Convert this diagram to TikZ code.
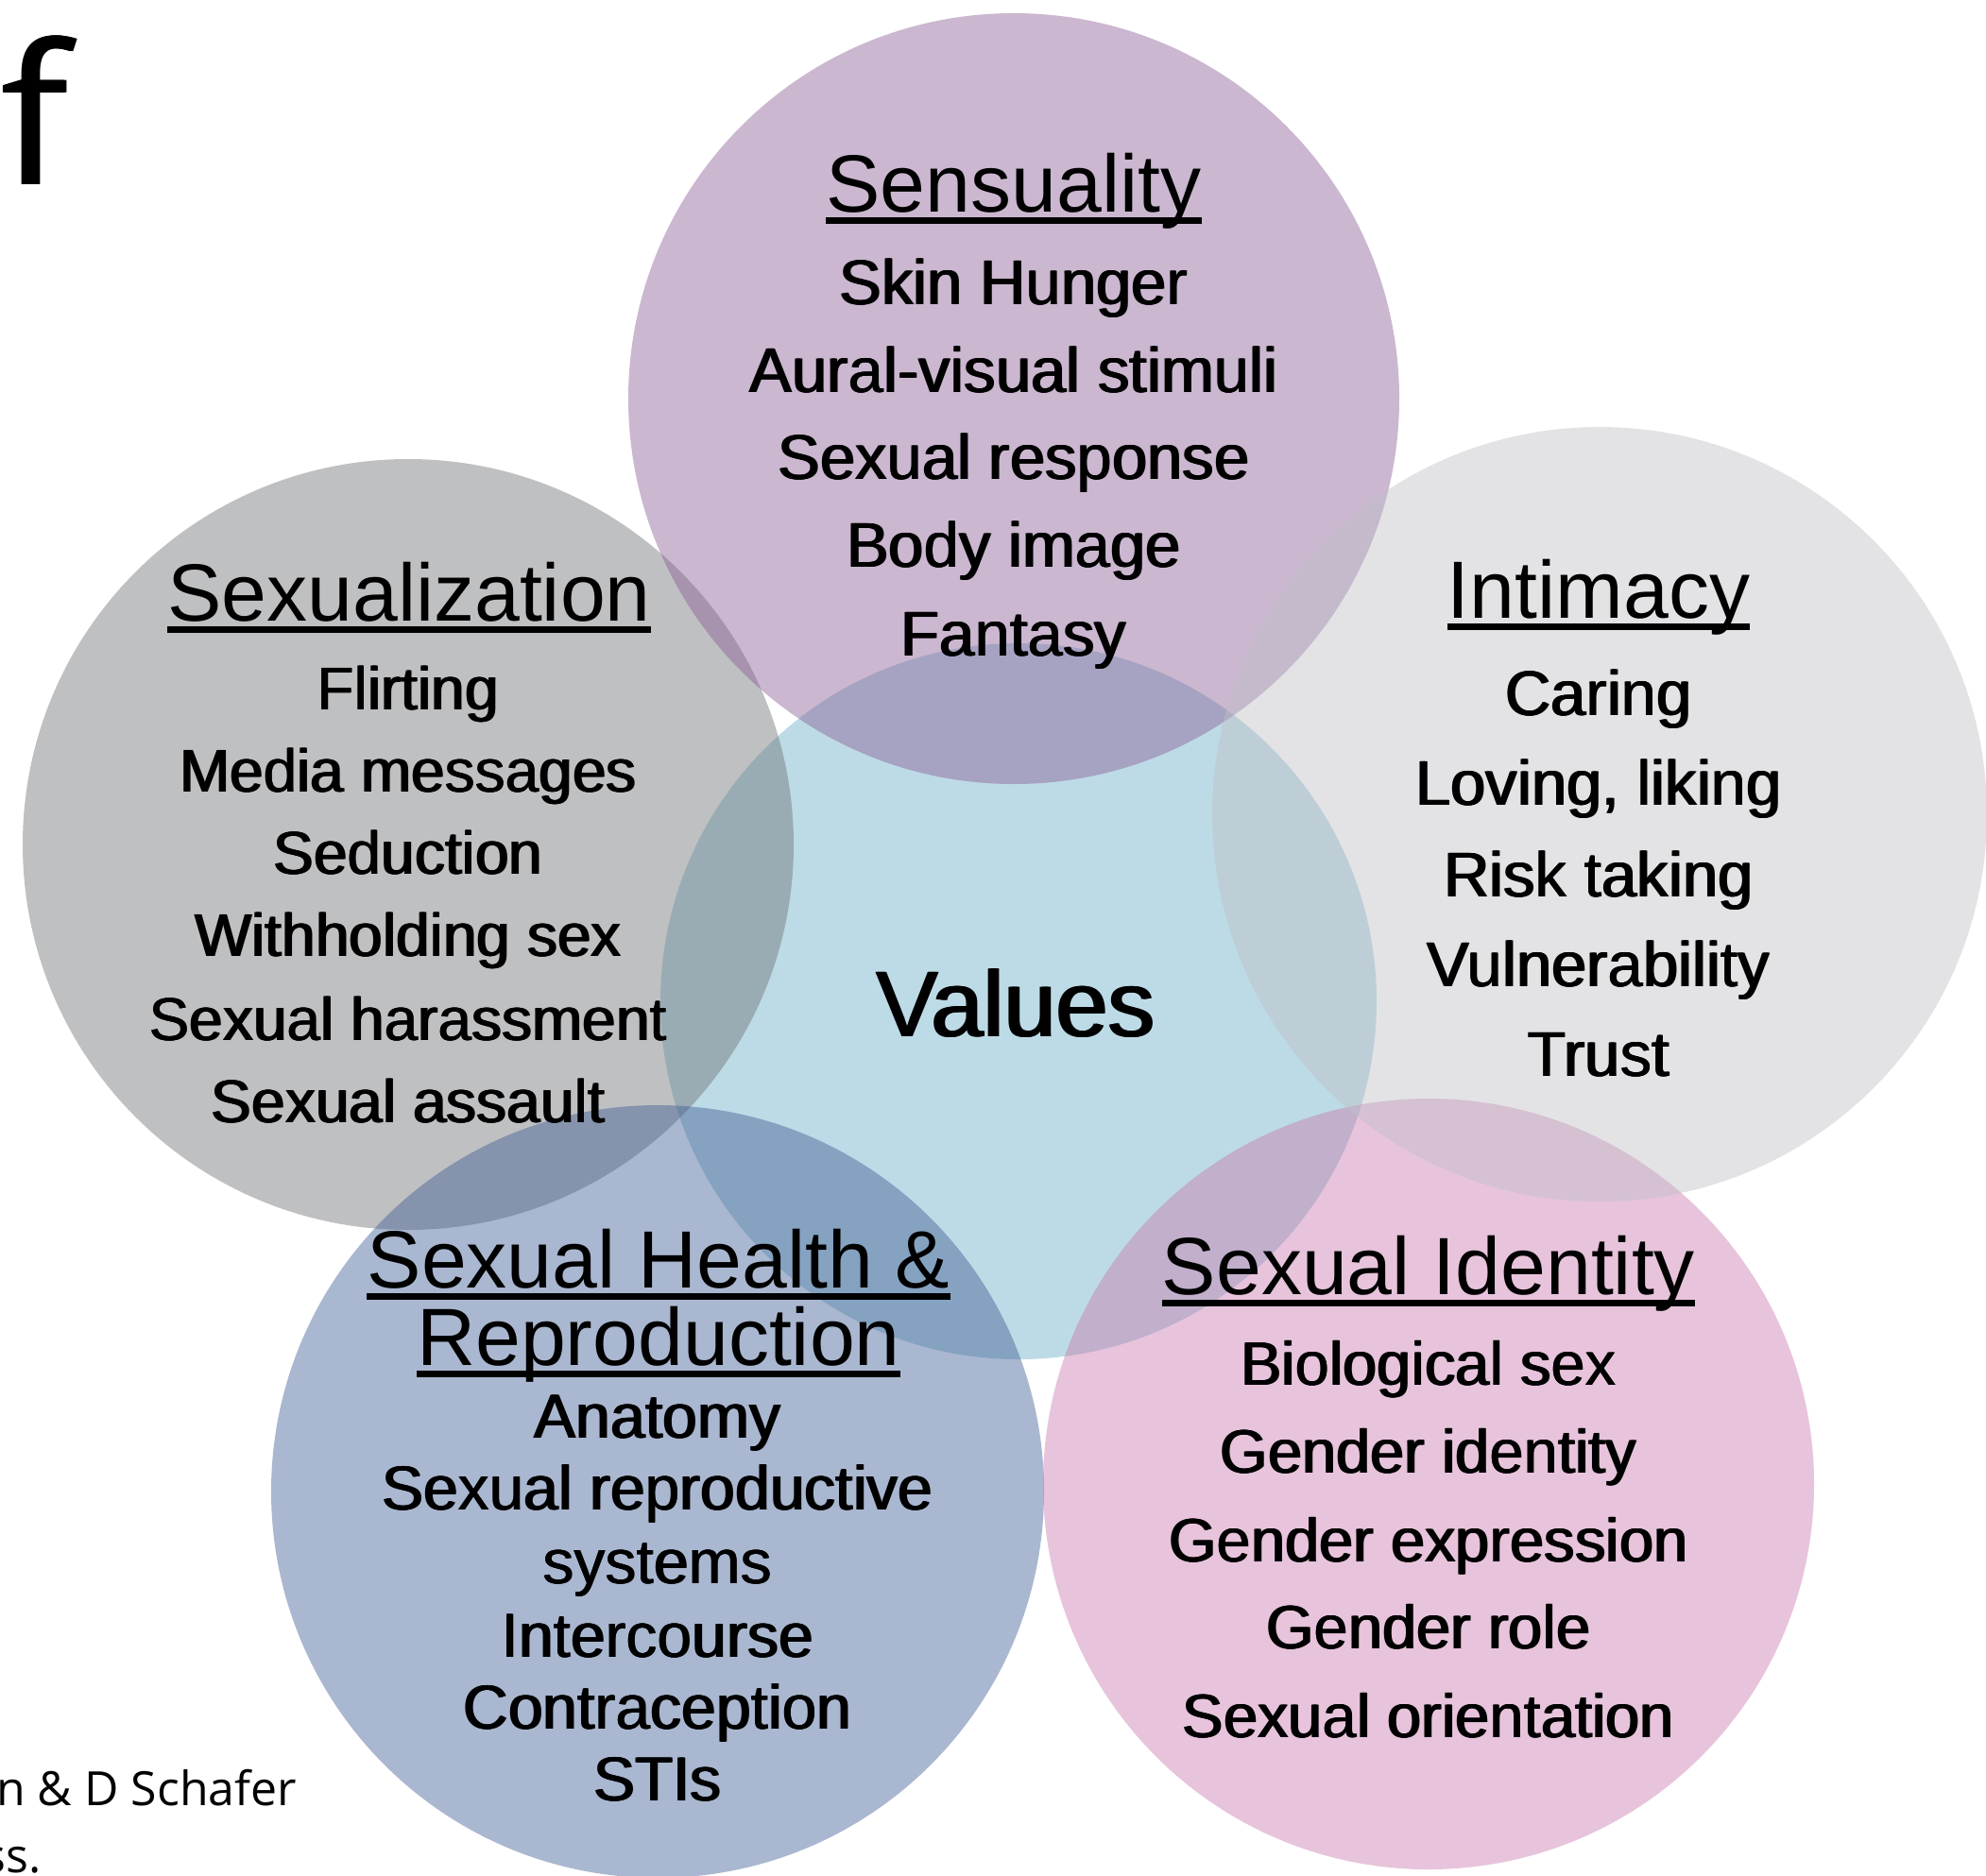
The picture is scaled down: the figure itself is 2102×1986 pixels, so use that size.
\documentclass[tikz,border=0pt]{standalone}
\usepackage{fontspec}
\setmainfont{Liberation Sans}
\newfontfamily\notefont{Open Sans}

% heavier strokes: the text is set three times, a little apart
\newcommand{\heavytext}[2]{\rlap{#2}\kern#1\rlap{#2}\kern#1#2}

\definecolor{valuesfill}{RGB}{189,219,230}
\definecolor{sexzfill}{RGB}{110,112,116}
\definecolor{sensfill}{RGB}{137,91,148}
\definecolor{healthfill}{RGB}{62,91,148}
\definecolor{identfill}{RGB}{200,121,173}
\definecolor{intimfill}{RGB}{191,191,198}

\begin{document}
\begin{tikzpicture}[x=1pt,y=-1pt,
  disc/.style={circle, draw=none, inner sep=0pt, minimum size=#1},
  glass/.style={fill opacity=0.44},
  heading/.style={font=\fontsize{86}{90}\selectfont, anchor=base, inner sep=0pt},
  entry/.style={font=\fontsize{#1}{#1}\selectfont, anchor=base, inner sep=0pt},
  entry/.default=66,
  centretext/.style={font=\fontsize{99}{102}\selectfont, anchor=base, inner sep=0pt},
  uline/.style={line width=7pt},
  note/.style={font=\notefont\fontsize{50}{56}\selectfont, inner sep=0pt}
]
\useasboundingbox (0,0) rectangle (2102,1986);
\clip (0,0) rectangle (2102,1986);

% the six circles, lowest first
\node[disc=758pt, fill=valuesfill] (values) at (1078,1060) {};
\node[disc=816pt, fill=sexzfill, glass] (sexz) at (432,894) {};
\node[disc=816pt, fill=sensfill, glass] (sens) at (1073,422) {};
\node[disc=818pt, fill=healthfill, glass] (health) at (696,1579) {};
\node[disc=816pt, fill=identfill, glass] (ident) at (1512,1571) {};
\node[disc=820pt, fill=intimfill, glass] (intim) at (1693,862) {};

% centre
\node[centretext] (valT) at (1075,1097) {\heavytext{1.3pt}{Values}};

% Sensuality
\node[heading] (sensT) at (1073,224) {Sensuality};
\draw[uline] ([yshift=-9pt]sensT.base west) -- ([yshift=-9pt]sensT.base east);
\node[entry=67] (sens1) at (1073,322) {\heavytext{0.9pt}{Skin Hunger}};
\node[entry=67] (sens2) at (1073,415) {\heavytext{0.9pt}{Aural-visual stimuli}};
\node[entry=67] (sens3) at (1073,507) {\heavytext{0.9pt}{Sexual response}};
\node[entry=67] (sens4) at (1073,600) {\heavytext{0.9pt}{Body image}};
\node[entry=67] (sens5) at (1073,694) {\heavytext{0.9pt}{Fantasy}};

% Sexualization
\node[heading] (sexzT) at (433,657) {Sexualization};
\draw[uline] ([yshift=-9pt]sexzT.base west) -- ([yshift=-9pt]sexzT.base east);
\node[entry=64] (sexz1) at (432,751) {\heavytext{0.9pt}{Flirting}};
\node[entry=64] (sexz2) at (432,838) {\heavytext{0.9pt}{Media messages}};
\node[entry=64] (sexz3) at (432,925) {\heavytext{0.9pt}{Seduction}};
\node[entry=64] (sexz4) at (432,1012) {\heavytext{0.9pt}{Withholding sex}};
\node[entry=64] (sexz5) at (432,1101) {\heavytext{0.9pt}{Sexual harassment}};
\node[entry=64] (sexz6) at (432,1188) {\heavytext{0.9pt}{Sexual assault}};

% Intimacy
\node[heading] (intimT) at (1692,654) {Intimacy};
\draw[uline] ([yshift=-9pt]intimT.base west) -- ([yshift=-9pt]intimT.base east);
\node[entry=67] (intim1) at (1692,757) {\heavytext{0.9pt}{Caring}};
\node[entry=67] (intim2) at (1692,852) {\heavytext{0.9pt}{Loving, liking}};
\node[entry=67] (intim3) at (1692,949) {\heavytext{0.9pt}{Risk taking}};
\node[entry=67] (intim4) at (1692,1044) {\heavytext{0.9pt}{Vulnerability}};
\node[entry=67] (intim5) at (1692,1139) {\heavytext{0.9pt}{Trust}};

% Sexual Health & Reproduction
\node[heading] (healthT) at (697,1363) {Sexual Health \&};
\draw[uline] ([yshift=-9pt]healthT.base west) -- ([yshift=-9pt]healthT.base east);
\node[heading] (healthT2) at (697,1445) {Reproduction};
\draw[uline] ([yshift=-9pt]healthT2.base west) -- ([yshift=-9pt]healthT2.base east);
\node[entry] (health1) at (696,1522) {\heavytext{0.9pt}{Anatomy}};
\node[entry] (health2) at (696,1598) {\heavytext{0.9pt}{Sexual reproductive}};
\node[entry] (health3) at (696,1676) {\heavytext{0.9pt}{systems}};
\node[entry] (health4) at (696,1754) {\heavytext{0.9pt}{Intercourse}};
\node[entry] (health5) at (696,1830) {\heavytext{0.9pt}{Contraception}};
\node[entry] (health6) at (696,1906) {\heavytext{0.9pt}{STIs}};

% Sexual Identity
\node[heading] (identT) at (1512,1370) {Sexual Identity};
\draw[uline] ([yshift=-9pt]identT.base west) -- ([yshift=-9pt]identT.base east);
\node[entry=65] (ident1) at (1512,1466) {\heavytext{0.9pt}{Biological sex}};
\node[entry=65] (ident2) at (1512,1559) {\heavytext{0.9pt}{Gender identity}};
\node[entry=65] (ident3) at (1512,1653) {\heavytext{0.9pt}{Gender expression}};
\node[entry=65] (ident4) at (1512,1745) {\heavytext{0.9pt}{Gender role}};
\node[entry=65] (ident5) at (1512,1839) {\heavytext{0.9pt}{Sexual orientation}};

% slide text running in from the left
\node[font=\notefont\fontsize{206}{210}\selectfont, inner sep=0pt, anchor=base west] (bigf) at (0,195) {\heavytext{1.5pt}{f}};
\node[note, anchor=base west] (credit1) at (-4,1911) {n \& D Schafer};
\node[note, anchor=base east] (credit2) at (44,1982) {ss.};
\end{tikzpicture}
\end{document}
